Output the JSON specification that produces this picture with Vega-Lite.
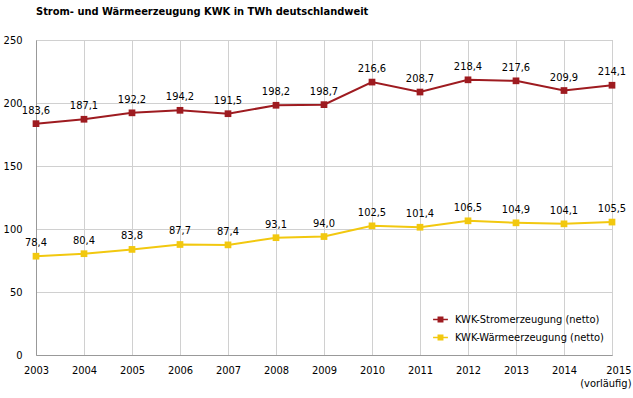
{
  "$schema": "https://vega.github.io/schema/vega-lite/v6.json",
  "width": 576,
  "height": 315,
  "autosize": {"type": "none"},
  "padding": {"left": 36, "top": 40, "right": 21, "bottom": 43},
  "background": "white",
  "title": {"text": "Strom- und Wärmeerzeugung KWK in TWh deutschlandweit", "anchor": "start", "frame": "group", "offset": 17, "fontSize": 11, "fontWeight": "bold", "font": "DejaVu Sans Condensed", "color": "#000"},
  "config": {
    "locale": {"number": {"decimal": ",", "thousands": ".", "grouping": [3], "currency": ["", " €"]}},
    "font": "DejaVu Sans Condensed",
    "view": {"stroke": "#b0b0b0", "strokeWidth": 1},
    "axis": {"labelFont": "DejaVu Sans Condensed", "labelFontSize": 11, "labelColor": "#000", "gridColor": "#d0d0d0", "domainColor": "#999", "ticks": false, "title": null}
  },
  "data": {"values": [
    {"year": 2003, "series": "KWK-Stromerzeugung (netto)", "value": 183.6},
    {"year": 2004, "series": "KWK-Stromerzeugung (netto)", "value": 187.1},
    {"year": 2005, "series": "KWK-Stromerzeugung (netto)", "value": 192.2},
    {"year": 2006, "series": "KWK-Stromerzeugung (netto)", "value": 194.2},
    {"year": 2007, "series": "KWK-Stromerzeugung (netto)", "value": 191.5},
    {"year": 2008, "series": "KWK-Stromerzeugung (netto)", "value": 198.2},
    {"year": 2009, "series": "KWK-Stromerzeugung (netto)", "value": 198.7},
    {"year": 2010, "series": "KWK-Stromerzeugung (netto)", "value": 216.6},
    {"year": 2011, "series": "KWK-Stromerzeugung (netto)", "value": 208.7},
    {"year": 2012, "series": "KWK-Stromerzeugung (netto)", "value": 218.4},
    {"year": 2013, "series": "KWK-Stromerzeugung (netto)", "value": 217.6},
    {"year": 2014, "series": "KWK-Stromerzeugung (netto)", "value": 209.9},
    {"year": 2015, "series": "KWK-Stromerzeugung (netto)", "value": 214.1},
    {"year": 2003, "series": "KWK-Wärmeerzeugung (netto)", "value": 78.4},
    {"year": 2004, "series": "KWK-Wärmeerzeugung (netto)", "value": 80.4},
    {"year": 2005, "series": "KWK-Wärmeerzeugung (netto)", "value": 83.8},
    {"year": 2006, "series": "KWK-Wärmeerzeugung (netto)", "value": 87.7},
    {"year": 2007, "series": "KWK-Wärmeerzeugung (netto)", "value": 87.4},
    {"year": 2008, "series": "KWK-Wärmeerzeugung (netto)", "value": 93.1},
    {"year": 2009, "series": "KWK-Wärmeerzeugung (netto)", "value": 94.0},
    {"year": 2010, "series": "KWK-Wärmeerzeugung (netto)", "value": 102.5},
    {"year": 2011, "series": "KWK-Wärmeerzeugung (netto)", "value": 101.4},
    {"year": 2012, "series": "KWK-Wärmeerzeugung (netto)", "value": 106.5},
    {"year": 2013, "series": "KWK-Wärmeerzeugung (netto)", "value": 104.9},
    {"year": 2014, "series": "KWK-Wärmeerzeugung (netto)", "value": 104.1},
    {"year": 2015, "series": "KWK-Wärmeerzeugung (netto)", "value": 105.5}
  ]},
  "encoding": {
    "x": {"field": "year", "type": "ordinal", "scale": {"type": "point", "padding": 0},
      "axis": {"labelAngle": 0, "labelPadding": 9, "grid": true, "domain": true,
        "labelExpr": "datum.value == 2015 ? ['2015', '(vorläufig)'] : datum.label",
        "labelAlign": {"condition": {"test": "datum.value == 2015", "value": "right"}, "value": "center"},
        "labelOffset": {"condition": {"test": "datum.value == 2015", "value": 19}, "value": 0}}},
    "y": {"field": "value", "type": "quantitative", "scale": {"domain": [0, 250], "nice": false},
      "axis": {"values": [0, 50, 100, 150, 200, 250], "labelPadding": 14, "grid": true, "domain": true}}
  },
  "layer": [
    {
      "mark": {"type": "line", "strokeWidth": 2, "point": {"shape": "square", "filled": true, "size": 45}},
      "encoding": {
        "color": {"field": "series", "type": "nominal",
          "scale": {"domain": ["KWK-Stromerzeugung (netto)", "KWK-Wärmeerzeugung (netto)"], "range": ["#9e1b20", "#f2c80f"]},
          "legend": {"orient": "none", "legendX": 396, "legendY": 271, "title": null,
            "labelFont": "DejaVu Sans Condensed", "labelFontSize": 11, "labelColor": "#000",
            "symbolType": "M-1,0H1M-0.3,-0.3H0.3V0.3H-0.3Z", "symbolSize": 220, "symbolStrokeWidth": 1.5,
            "rowPadding": 4, "labelOffset": 6,
            "encode": {"symbols": {"update": {"fill": {"scale": "color", "field": "value"}, "fillOpacity": {"value": 1}}}}}}
      }
    },
    {
      "mark": {"type": "text", "dy": -13, "fontSize": 11, "font": "DejaVu Sans Condensed", "color": "#000"},
      "encoding": {"text": {"field": "value", "type": "quantitative", "format": ".1f"}}
    }
  ]
}
